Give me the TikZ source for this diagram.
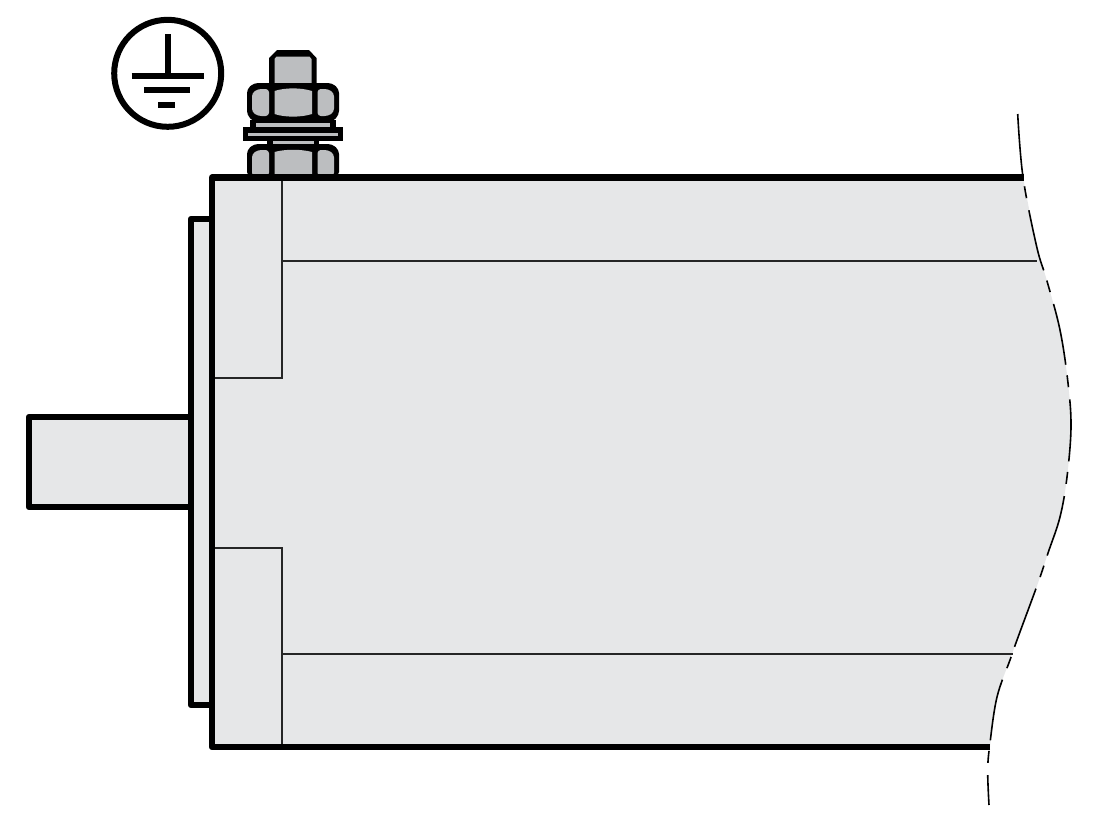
\documentclass[tikz,border=0pt]{standalone}
\definecolor{body}{HTML}{E6E7E8}
\definecolor{steel}{HTML}{BCBEC0}
\tikzset{
  x=0.75pt,y=-0.75pt,
  thick line/.style={draw=black,line width=4.7pt,line join=round,line cap=butt},
  sym line/.style={draw=black,line width=4.5pt},
  thin line/.style={draw=black!85,line width=1pt},
  break line/.style={draw=black,line width=1.2pt,dash pattern=on 46.5pt off 8pt on 9pt off 9.25pt},
  nut body/.style={fill=black,rounded corners=3pt},
  face/.style={fill=steel,rounded corners=2.5pt}
}
\begin{document}
\begin{tikzpicture}
\useasboundingbox (0,0) rectangle (1104,822);
% fills
\fill[body] (212,177) -- (1023,177) --
  plot[smooth,tension=0.6] coordinates {(1023,177) (1036.7,246.7) (1046.7,280) (1060,330) (1068,383) (1071,427) (1067,477) (1060,517) (1048,553) (1038,583) (1017,640) (1010,660) (997,697) (990,747)}
  -- (212,747) -- cycle;
\fill[body] (191,219) rectangle (212,705);
\fill[body] (29,417) rectangle (191,507);
% break line
\draw[break line] plot[smooth,tension=0.6] coordinates {(1017.7,114) (1023,177) (1036.7,246.7) (1046.7,280) (1060,330) (1068,383) (1071,427) (1067,477) (1060,517) (1048,553) (1038,583) (1017,640) (1010,660) (997,697) (990,743) (987.7,770) (989,805)};
% thin lines
\draw[thin line] (282,177) -- (282,378) -- (212,378);
\draw[thin line] (282,261) -- (1037,261);
\draw[thin line] (212,548) -- (282,548) -- (282,747);
\draw[thin line] (282,654) -- (1013,654);
% bolt
\fill[black] (277,50) -- (309,50) -- (316.5,58) -- (316.5,85) -- (269,85) -- (269,58) -- cycle;
\fill[steel] (276.5,56.5) -- (309.5,56.5) -- (311.5,59) -- (311.5,85) -- (274.5,85) -- (274.5,59) -- cycle;
% upper nut
\fill[nut body] (254,83) -- (332,83) -- (339,89) -- (339,115) -- (332,122) -- (254,122) -- (247,115) -- (247,89) -- cycle;
\fill[face] (258,89) -- (269,89) -- (269,116) -- (258,116) -- (252,112) -- (252,93) -- cycle;
\fill[face] (317.5,89) -- (328,89) -- (334,93) -- (334,112) -- (328,116) -- (317.5,116) -- cycle;
\fill[steel] (274.5,91) .. controls (285,87.5) and (301,87.5) .. (312,91) -- (312,114) .. controls (301,117.5) and (285,117.5) .. (274.5,114) -- cycle;
% washers
\fill[black] (250,120) rectangle (336,128);
\fill[steel] (255.5,122.5) rectangle (330,126.7);
\fill[black] (242.7,126.7) rectangle (343,141);
\fill[steel] (248,132.5) rectangle (338,135.5);
\fill[black] (267,140) rectangle (319,148);
\fill[steel] (272.5,141.3) rectangle (313.5,145);
% lower nut
\fill[nut body] (254,144) -- (332,144) -- (339,150) -- (339,176) -- (247,176) -- (247,150) -- cycle;
\fill[face] (258,150) -- (269,150) -- (269,176) -- (252,176) -- (252,154) -- cycle;
\fill[face] (317.5,150) -- (328,150) -- (334,154) -- (334,176) -- (317.5,176) -- cycle;
\fill[steel] (274.5,152) .. controls (285,149) and (301,149) .. (312,152) -- (312,176) -- (274.5,176) -- cycle;
% outlines
\draw[thick line] (990,747) -- (212,747) -- (212,177.5) -- (1024,177.5);
\draw[thick line] (212,705) -- (191,705) -- (191,219) -- (212,219);
\draw[thick line] (191,417) -- (29,417) -- (29,507) -- (191,507);
% earth symbol
\draw[sym line] (167.7,73.3) circle (53.5);
\draw[sym line] (167.7,34) -- (167.7,74);
\draw[sym line] (131.7,75.7) -- (204,75.7);
\draw[sym line] (144,90) -- (190,90);
\draw[sym line] (158,105) -- (175,105);
\end{tikzpicture}
\end{document}
